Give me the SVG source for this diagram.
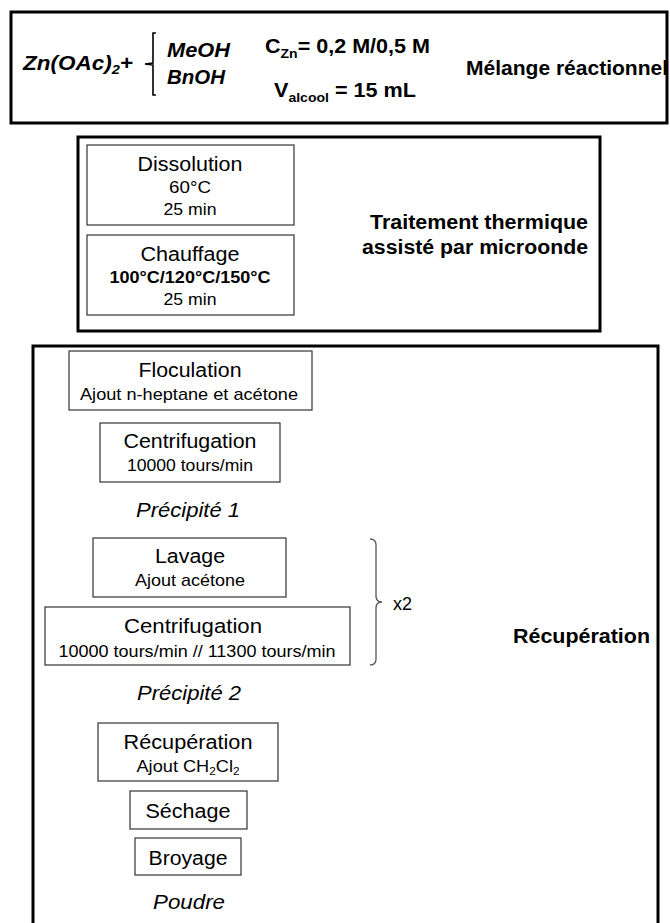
<svg xmlns="http://www.w3.org/2000/svg" width="670" height="923" viewBox="0 0 670 923">
<style>
text{font-family:"Liberation Sans",Arial,sans-serif;fill:#000}
.big{stroke:#000;stroke-width:3;fill:#fff}
.box{stroke:#333;stroke-width:1.2;fill:#fff}
.t{font-size:20px;text-anchor:middle}
.s{font-size:17px;text-anchor:middle}
.b{font-weight:bold}
.i{font-style:italic}
.lbl{font-size:20px;font-weight:bold}
</style>
<rect width="670" height="923" fill="#fff"/>
<g id="melange">
<rect class="big" x="11" y="12" width="656" height="111"/>
<text x="23" y="70" class="lbl i" font-size="19" textLength="110" lengthAdjust="spacingAndGlyphs">Zn(OAc)<tspan font-size="13" dy="4">2</tspan><tspan dy="-4">+</tspan></text>
<path d="M156,33 L153,33 L153,63 L145,64 L153,65 L153,95 L156,95" fill="none" stroke="#000" stroke-width="1.6"/>
<text x="167" y="57" class="lbl i" font-size="21" textLength="63" lengthAdjust="spacingAndGlyphs">MeOH</text>
<text x="167" y="84" class="lbl i" font-size="21" textLength="58" lengthAdjust="spacingAndGlyphs">BnOH</text>
<text x="265" y="53" class="lbl" font-size="21" textLength="165" lengthAdjust="spacingAndGlyphs">C<tspan font-size="13" dy="5">Zn</tspan><tspan dy="-5">= 0,2 M/0,5 M</tspan></text>
<text x="274" y="97" class="lbl" font-size="21" textLength="142" lengthAdjust="spacingAndGlyphs">V<tspan font-size="13" dy="5">alcool</tspan><tspan dy="-5"> = 15 mL</tspan></text>
<text x="466" y="75" class="lbl" textLength="202" lengthAdjust="spacingAndGlyphs">Mélange réactionnel</text>
</g>
<g id="traitement">
<rect class="big" x="78" y="137" width="522" height="194"/>
<text x="370" y="229" class="lbl" textLength="218" lengthAdjust="spacingAndGlyphs">Traitement thermique</text>
<text x="362" y="254" class="lbl" textLength="226" lengthAdjust="spacingAndGlyphs">assisté par microonde</text>
</g>
<g id="dissolution">
<rect class="box" x="87" y="145" width="207" height="80"/>
<text x="190" y="171" class="t" textLength="105" lengthAdjust="spacingAndGlyphs">Dissolution</text>
<text x="190" y="193" class="s" textLength="42" lengthAdjust="spacingAndGlyphs">60°C</text>
<text x="190" y="215" class="s" textLength="53" lengthAdjust="spacingAndGlyphs">25 min</text>
</g>
<g id="chauffage">
<rect class="box" x="87" y="235" width="207" height="80"/>
<text x="190" y="261" class="t" textLength="99" lengthAdjust="spacingAndGlyphs">Chauffage</text>
<text x="190" y="283" class="s b" textLength="161" lengthAdjust="spacingAndGlyphs">100°C/120°C/150°C</text>
<text x="190" y="305" class="s" textLength="53" lengthAdjust="spacingAndGlyphs">25 min</text>
</g>
<g id="recuperation-etape">
<rect class="big" x="33" y="346" width="625" height="590"/>
<text x="513" y="643" class="lbl" textLength="137" lengthAdjust="spacingAndGlyphs">Récupération</text>
</g>
<g id="floculation">
<rect class="box" x="69" y="351" width="243" height="59"/>
<text x="190" y="377" class="t" textLength="103" lengthAdjust="spacingAndGlyphs">Floculation</text>
<text x="189" y="400" class="s" textLength="218" lengthAdjust="spacingAndGlyphs">Ajout n-heptane  et acétone</text>
</g>
<g id="centrifugation1">
<rect class="box" x="100" y="423" width="180" height="59"/>
<text x="190" y="448" class="t" textLength="133" lengthAdjust="spacingAndGlyphs">Centrifugation</text>
<text x="190" y="471" class="s" textLength="126" lengthAdjust="spacingAndGlyphs">10000 tours/min</text>
</g>
<g id="precipite1">
<text x="188" y="517" class="t i" textLength="104" lengthAdjust="spacingAndGlyphs">Précipité 1</text>
</g>
<g id="lavage">
<rect class="box" x="93" y="538" width="193" height="59"/>
<text x="190" y="563" class="t" textLength="70" lengthAdjust="spacingAndGlyphs">Lavage</text>
<text x="190" y="586" class="s" textLength="110" lengthAdjust="spacingAndGlyphs">Ajout acétone</text>
</g>
<g id="centrifugation2">
<rect class="box" x="45" y="607" width="305" height="58"/>
<text x="193" y="633" class="t" textLength="138" lengthAdjust="spacingAndGlyphs">Centrifugation</text>
<text x="197" y="657" class="s" textLength="277" lengthAdjust="spacingAndGlyphs">10000 tours/min  //  11300 tours/min</text>
</g>
<g id="repetition">
<path d="M370,539 Q376,539 376,545 L376,596 Q376,602 382,602 Q376,602 376,608 L376,659 Q376,665 370,665" fill="none" stroke="#555" stroke-width="1.3"/>
<text x="393" y="610" font-size="18px">x2</text>
</g>
<g id="precipite2">
<text x="189" y="700" class="t i" textLength="104" lengthAdjust="spacingAndGlyphs">Précipité 2</text>
</g>
<g id="recuperation">
<rect class="box" x="98" y="723" width="180" height="58"/>
<text x="188" y="749" class="t" textLength="129" lengthAdjust="spacingAndGlyphs">Récupération</text>
<text x="188" y="772" class="s" textLength="103" lengthAdjust="spacingAndGlyphs">Ajout CH<tspan font-size="11" dy="3">2</tspan><tspan dy="-3">Cl</tspan><tspan font-size="11" dy="3">2</tspan></text>
</g>
<g id="sechage">
<rect class="box" x="130" y="791" width="117" height="38"/>
<text x="188" y="818" class="t" textLength="85" lengthAdjust="spacingAndGlyphs">Séchage</text>
</g>
<g id="broyage">
<rect class="box" x="135" y="838" width="106" height="37"/>
<text x="188" y="865" class="t" textLength="79" lengthAdjust="spacingAndGlyphs">Broyage</text>
</g>
<g id="poudre">
<text x="189" y="909" class="t i" textLength="72" lengthAdjust="spacingAndGlyphs">Poudre</text>
</g>
</svg>
